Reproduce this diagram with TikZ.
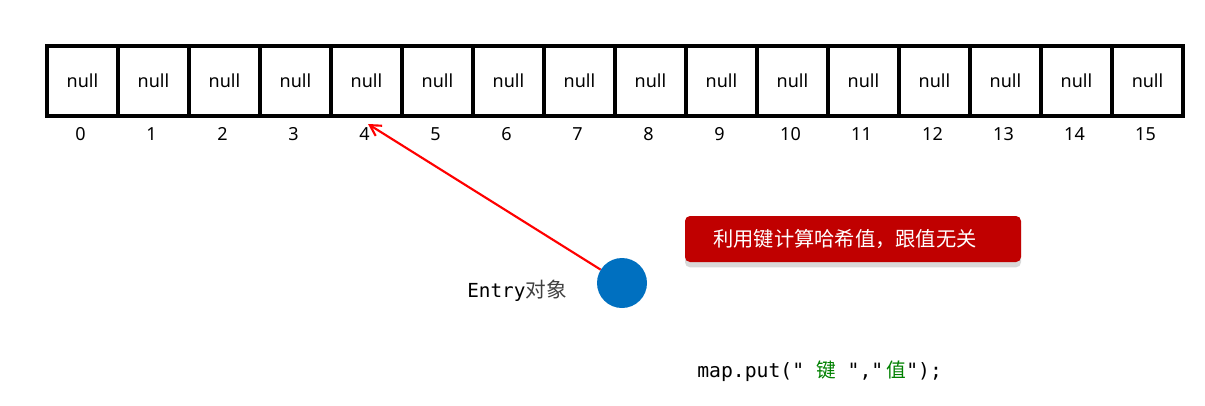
\documentclass[tikz,border=0pt]{standalone}
\usepackage{fontspec}
\setmainfont{Noto Sans}
\newfontfamily\cjk{Noto Sans CJK SC}
\newfontfamily\monof{DejaVu Sans Mono}
\usetikzlibrary{arrows.meta,shadows}
\definecolor{boxred}{HTML}{C00000}
\definecolor{dotblue}{HTML}{0070C0}
\definecolor{codegreen}{HTML}{008000}
\tikzset{
  cell/.style={draw=black, line width=2.4pt, minimum width=71*0.75pt, minimum height=70*0.75pt, inner sep=0pt, outer sep=0pt, font=\fontsize{13.5pt}{16pt}\selectfont},
  idx/.style={inner sep=0pt, anchor=base, font=\fontsize{13.5pt}{16pt}\selectfont},
  note/.style={fill=boxred, rounded corners=3.75pt, text=white, minimum width=336*0.75pt, minimum height=46*0.75pt, inner sep=0pt, font=\cjk\fontsize{15.2pt}{18pt}\selectfont, drop shadow={shadow xshift=0pt, shadow yshift=-4pt, fill=black!15, opacity=1}},
  dot/.style={circle, fill=dotblue, minimum size=50*0.75pt, inner sep=0pt},
  plain/.style={inner sep=0pt, anchor=base west},
  ptr/.style={draw=red, line width=1.6pt, -{Straight Barb[length=8pt,width=9pt]}}
}
\begin{document}
\begin{tikzpicture}[x=0.75pt,y=-0.75pt]
\useasboundingbox (0,0) rectangle (1205,405);
\foreach \i in {0,...,15}{
  \node[cell] (c\i) at ({47+71*(\i+0.5)},81) {null};
  \node[idx] (n\i) at ({47+71*(\i+0.5)-2},140) {\i};
}
\coordinate (tip) at (368,124);
\node[dot] (entry) at (622,283) {};
\draw[ptr] (entry) -- (tip);
\node[note] (hint) at (853,239) {\hspace*{-12pt}利用键计算哈希值，跟值无关};
\node[plain] (elabel) at (467,297) {\monof\fontsize{14.5pt}{16pt}\selectfont Entry\cjk\fontsize{15.5pt}{16pt}\selectfont\color{black!75}对象};
\node[plain] (code) at (697,377) {\monof\fontsize{14.8pt}{18pt}\selectfont map.put(" {\cjk\color{codegreen}键} ","{\cjk\color{codegreen}\,值}");};
\end{tikzpicture}
\end{document}
